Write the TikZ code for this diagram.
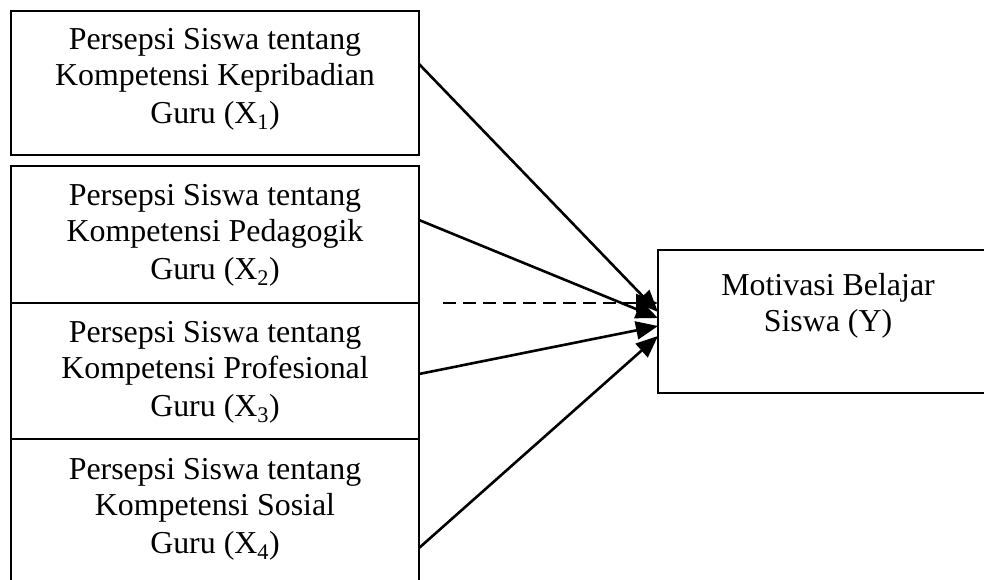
\documentclass[tikz,border=0pt]{standalone}
\usepackage{fontspec}
\setmainfont{Liberation Serif}
\usetikzlibrary{arrows.meta}
\begin{document}
\begin{tikzpicture}[x=1pt,y=-1pt,
  box/.style={draw=black, line width=2pt, rectangle, inner sep=0pt, outer sep=0pt},
  lbl/.style={align=center, inner sep=0pt, font=\fontsize{31.9}{36}\selectfont},
  conn/.style={line width=2.6pt, -{Triangle[length=22pt,width=18pt]}},
  dconn/.style={conn, dash pattern=on 13pt off 7pt}]
\useasboundingbox (0,0) rectangle (984,579);
\clip (0,0) rectangle (984,579);
\fill[white] (0,0) rectangle (984,579);
% boxes
\node[box, minimum width=408pt, minimum height=144pt] (x1) at (215,83) {};
\node[box, minimum width=408pt, minimum height=137pt] (x2) at (215,234.5) {};
\node[box, minimum width=408pt, minimum height=136pt] (x3) at (215,371) {};
\node[box, minimum width=408pt, minimum height=161pt] (x4) at (215,519.5) {};
\node[box, minimum width=380pt, minimum height=143pt] (y) at (848,321.5) {};
% labels
\node[lbl] (t1) at (215,79.5) {Persepsi Siswa tentang\\Kompetensi Kepribadian\\[2pt]Guru (X\textsubscript{1})};
\node[lbl] (t2) at (215,235.5) {Persepsi Siswa tentang\\Kompetensi Pedagogik\\[2pt]Guru (X\textsubscript{2})};
\node[lbl] (t3) at (215,372.5) {Persepsi Siswa tentang\\Kompetensi Profesional\\[2pt]Guru (X\textsubscript{3})};
\node[lbl] (t4) at (215,509.5) {Persepsi Siswa tentang\\Kompetensi Sosial\\[2pt]Guru (X\textsubscript{4})};
\node[lbl] (ty) at (828,305.5) {Motivasi Belajar\\Siswa (Y)};
% connectors
\coordinate (d) at (443,303);
\draw[conn] ([yshift=19pt]x1.east) -- ([yshift=9.5pt]y.west);
\draw[conn] ([yshift=14.5pt]x2.east) -- ([yshift=3.5pt]y.west);
\draw[dconn] (d) -- ([yshift=18.5pt]y.west);
\draw[conn] ([yshift=-3pt]x3.east) -- ([yshift=-4.5pt]y.west);
\draw[conn] ([yshift=-28.5pt]x4.east) -- ([yshift=-14.5pt]y.west);
\end{tikzpicture}
\end{document}
